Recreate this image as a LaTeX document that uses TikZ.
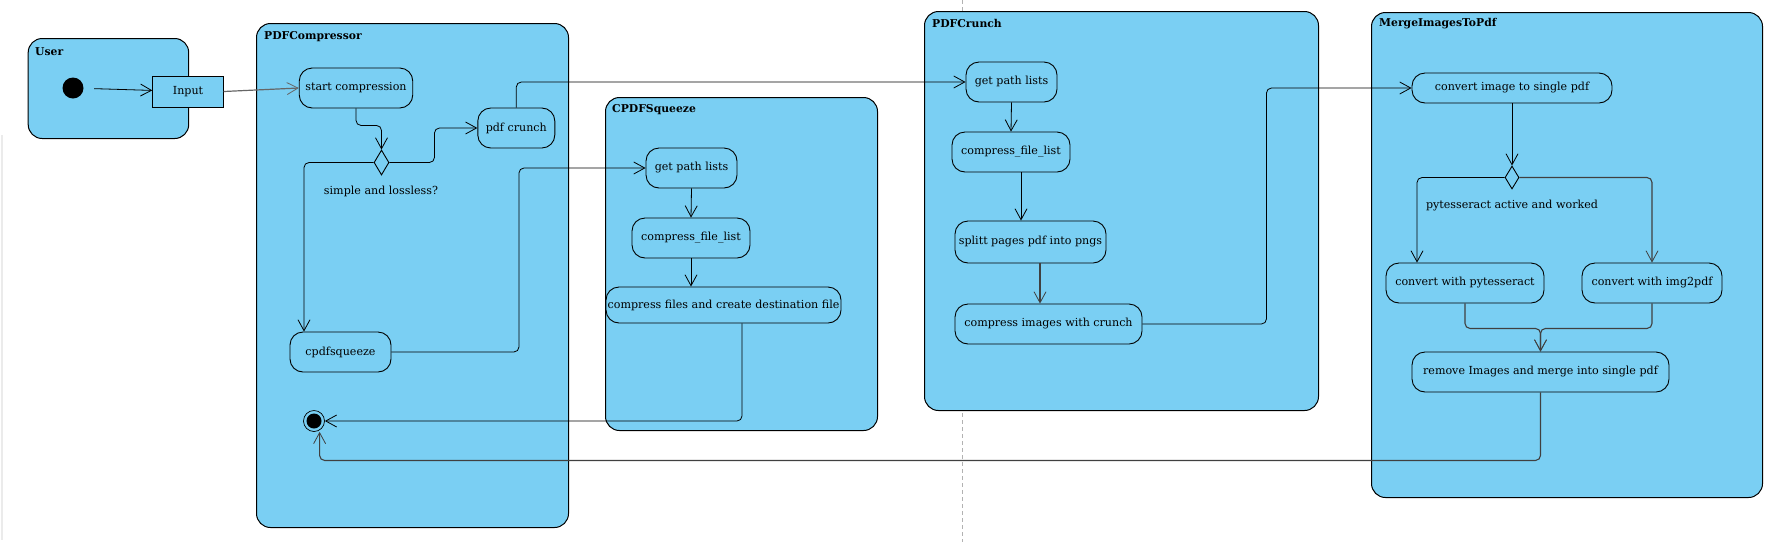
\documentclass[tikz,border=0pt]{standalone}
\usepackage{fontspec}
\setmainfont{DejaVu Serif}
\usetikzlibrary{arrows.meta,shapes.geometric}
\definecolor{lane}{RGB}{122,207,243}
\begin{document}
\begin{tikzpicture}[x=1pt,y=-1pt,
  font=\fontsize{11.1}{13}\selectfont,
  lanebox/.style={draw=black, fill=lane, rounded corners=14pt, line width=1pt, anchor=north west, inner sep=0pt},
  lanetitle/.style={anchor=west, inner sep=0pt, font=\fontsize{10.8}{13}\selectfont\bfseries},
  act/.style={draw=black, fill=lane, rounded corners=13pt, line width=0.9pt, inner sep=1.5pt, minimum height=40pt},
  dec/.style={draw=black, fill=lane, diamond, inner sep=0pt, line width=0.9pt},
  flow/.style={draw=black, line width=0.8pt, rounded corners=5pt, -{Straight Barb[length=11pt,width=12pt,line width=0.8pt]}},
  lbl/.style={inner sep=0pt}]
\useasboundingbox (0,0) rectangle (1771,542);
\fill[white] (0,0) rectangle (1771,542);
\draw[black!8, line width=1.5pt] (2,135) -- (2,540);
\draw[gray!60, dash pattern=on 4pt off 3pt, line width=0.6pt] (962,0) -- (962,542);
% lanes
\node[lanebox, minimum width=160.5pt, minimum height=100pt] (user) at (27.7,38) {};
\node[lanebox, minimum width=312pt, minimum height=504pt] (comp) at (256,23) {};
\node[lanebox, minimum width=272pt, minimum height=333pt] (squeeze) at (605,97) {};
\node[lanebox, minimum width=394pt, minimum height=399pt] (crunch) at (924,11) {};
\node[lanebox, minimum width=391pt, minimum height=485pt] (merge) at (1371,12) {};
\node[lanetitle] (tuser) at (35,52) {User};
\node[lanetitle] (tcomp) at (264,37) {PDFCompressor};
\node[lanetitle] (tsq) at (612,110) {CPDFSqueeze};
\node[lanetitle] (tcr) at (932,23) {PDFCrunch};
\node[lanetitle] (tme) at (1379,24) {MergeImagesToPdf};
% user
\node[circle, fill=black, inner sep=0pt, minimum size=21pt] (init) at (73,88) {};
\node[draw=black, fill=lane, line width=0.9pt, minimum width=70.5pt, minimum height=31pt, inner sep=0pt] (input) at (188,91.5) {Input};
% compressor
\node[act, minimum width=113.5pt] (start) at (356,88) {start compression};
\node[dec, minimum width=15pt, minimum height=25pt] (dec1) at (381.5,162.5) {};
\node[act, minimum width=77pt] (pcr) at (516.3,128) {pdf crunch};
\node[act, minimum width=101pt] (sq) at (340.5,352) {cpdfsqueeze};
\node[lbl] (lab1) at (381,191) {simple and lossless?};
\node[circle, draw=black, fill=lane, line width=0.7pt, minimum size=21pt, inner sep=0pt] (final) at (314,421) {};
\fill[black] (final.center) circle (7.5);
% squeeze
\node[act, minimum width=91pt] (sgp) at (691.5,168) {get path lists};
\node[act, minimum width=118pt] (scl) at (691,238) {compress\_file\_list};
\node[act, minimum width=235pt, minimum height=36pt] (scf) at (723.5,305) {compress files and create destination file};
% crunch
\node[act, minimum width=91pt] (cgp) at (1011.5,82) {get path lists};
\node[act, minimum width=118pt] (ccl) at (1011,152) {compress\_file\_list};
\node[act, minimum width=151pt, minimum height=42pt] (csp) at (1030.5,242) {splitt pages pdf into pngs};
\node[act, minimum width=187pt] (cci) at (1048.5,324) {compress images with crunch};
% merge
\node[act, minimum width=200pt, minimum height=30pt] (mci) at (1512,88) {convert image to single pdf};
\node[dec, minimum width=14pt, minimum height=23pt] (dec2) at (1512,177.5) {};
\node[lbl] (lab2) at (1512,206) {pytesseract active and worked};
\node[act, minimum width=158pt] (mpy) at (1465,283) {convert with pytesseract};
\node[act, minimum width=140pt] (mim) at (1652,283) {convert with img2pdf};
\node[act, minimum width=257pt] (mrm) at (1540.5,372) {remove Images and merge into single pdf};
% helper coordinates
\coordinate (sqin) at ([xshift=-36.5pt]sq.north);
\coordinate (mpyin) at ([xshift=-48pt]mpy.north);
% connectors
\draw[flow, shorten <=10.5pt] (init) -- (input);
\draw[flow, draw=black!60, line width=1.2pt] (input.east) -- (start.west);
\draw[flow] (start.south) -- ++(0,17) -| (dec1.north);
\draw[flow] (dec1.east) -- ++(45,0) |- (pcr.west);
\draw[flow] (dec1.west) -| (sqin);
\draw[flow] (sq.east) -- ++(127.5,0) |- (sgp.west);
\draw[flow] (pcr.north) |- (cgp.west);
\draw[flow] (sgp.south) -- (scl.north);
\draw[flow] (scl.south) -- (scl.south |- scf.north);
\draw[flow] ([xshift=18.5pt]scf.south) |- (final.east);
\draw[flow] (cgp.south) -- (ccl.north);
\draw[flow] ([xshift=10pt]ccl.south) -- ([xshift=10pt]ccl.south |- csp.north);
\draw[flow, draw=black!75, line width=1.1pt] ([xshift=9.5pt]csp.south) -- ([xshift=9.5pt]csp.south |- cci.north);
\draw[flow] (cci.east) -- ++(124,0) |- (mci.west);
\draw[flow] (mci.south) -- (dec2.north);
\draw[flow] (dec2.west) -| (mpyin);
\draw[flow, draw=black!75, line width=1.1pt] (dec2.east) -| (mim.north);
\draw[flow, draw=black!75, line width=1.1pt] (mpy.south) -- ++(0,25) -| (mrm.north);
\draw[flow, draw=black!75, line width=1.1pt] (mim.south) -- ++(0,25) -| (mrm.north);
\draw[flow, draw=black!75, line width=1.1pt] (mrm.south) -- ++(0,68) -| ([xshift=5.6pt]final.south);
\end{tikzpicture}
\end{document}
